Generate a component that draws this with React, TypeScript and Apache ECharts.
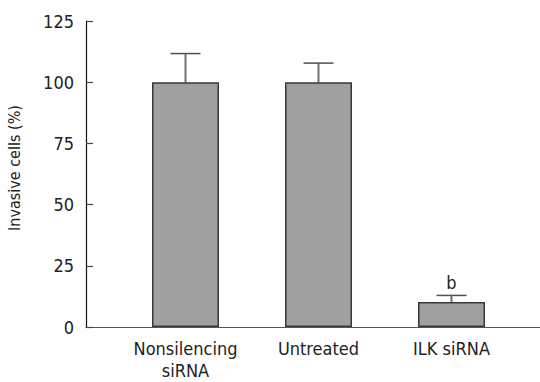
import React, { useEffect, useRef } from "react";
import * as echarts from "echarts";

// Invasion assay: percentage of invasive cells per treatment
const categories = ["Nonsilencing\nsiRNA", "Untreated", "ILK siRNA"];
const invasiveMean = [100, 100, 10.2];
const invasiveUpper = [111.7, 107.8, 12.9];
const significance = ["", "", "b"];
const yTicks = [0, 25, 50, 75, 100, 125];

const FONT = "'DejaVu Sans Condensed', 'DejaVu Sans', Tahoma, sans-serif";

export default function App() {
  const ref = useRef<HTMLDivElement>(null);

  useEffect(() => {
    if (!ref.current) return;
    const chart = echarts.init(ref.current, undefined, { renderer: "svg" });

    const gridTop = 21;
    const gridBottom = 55;

    chart.setOption({
      animation: false,
      backgroundColor: "#ffffff",
      textStyle: { fontFamily: FONT },
      grid: [
        { left: 86, right: 0, top: gridTop, bottom: gridBottom, outerBoundsMode: "none" },
        { left: 119, width: 399, top: gridTop, bottom: gridBottom, outerBoundsMode: "none" },
      ],
      xAxis: [
        {
          // frame axis: only the baseline spanning the full plot
          type: "value",
          gridIndex: 0,
          min: 0,
          max: 1,
          axisLine: { show: true, lineStyle: { color: "#555555", width: 1.2 } },
          axisTick: { show: false },
          axisLabel: { show: false },
          splitLine: { show: false },
        },
        {
          type: "category",
          gridIndex: 1,
          data: categories,
          axisLine: { show: false },
          axisTick: { show: false },
          axisLabel: {
            interval: 0,
            color: "#222222",
            fontFamily: FONT,
            fontSize: 18,
            lineHeight: 22,
            margin: 10,
          },
        },
      ],
      yAxis: [
        {
          type: "value",
          gridIndex: 0,
          min: yTicks[0],
          max: yTicks[yTicks.length - 1],
          interval: 25,
          name: "Invasive cells (%)",
          nameLocation: "middle",
          nameGap: 64,
          nameTextStyle: {
            color: "#222222",
            fontFamily: FONT,
            fontSize: 16,
            padding: [0, 0, 0, 12],
          },
          axisLine: { show: true, lineStyle: { color: "#111111", width: 1.2 } },
          axisTick: { show: true, inside: true, length: 7, lineStyle: { color: "#444444", width: 1.2 } },
          axisLabel: { color: "#222222", fontFamily: FONT, fontSize: 18, margin: 12 },
          splitLine: { show: false },
        },
        {
          type: "value",
          gridIndex: 1,
          min: yTicks[0],
          max: yTicks[yTicks.length - 1],
          interval: 25,
          show: false,
        },
      ],
      series: [
        {
          type: "bar",
          xAxisIndex: 1,
          yAxisIndex: 1,
          data: invasiveMean,
          barWidth: 67,
          itemStyle: { color: "#a0a0a0", borderColor: "#383838", borderWidth: 1.5 },
          z: 2,
        },
        {
          type: "custom",
          xAxisIndex: 1,
          yAxisIndex: 1,
          data: invasiveMean.map((m, i) => [i, m, invasiveUpper[i]]),
          z: 1,
          renderItem: (params: any, api: any) => {
            const idx = api.value(0);
            const base = api.coord([idx, api.value(1)]);
            const top = api.coord([idx, api.value(2)]);
            const half = 15;
            const children: any[] = [
              {
                type: "line",
                shape: { x1: base[0], y1: base[1], x2: top[0], y2: top[1] },
                style: { stroke: "#707070", lineWidth: 2 },
              },
              {
                type: "line",
                shape: { x1: top[0] - half, y1: top[1], x2: top[0] + half, y2: top[1] },
                style: { stroke: "#505050", lineWidth: 1.5 },
              },
            ];
            const mark = significance[params.dataIndex];
            if (mark) {
              children.push({
                type: "text",
                x: top[0],
                y: top[1] - 4,
                style: {
                  text: mark,
                  fill: "#222222",
                  font: `18px ${FONT}`,
                  textAlign: "center",
                  textVerticalAlign: "bottom",
                },
              });
            }
            return { type: "group", children };
          },
        },
      ],
    });

    return () => chart.dispose();
  }, []);

  return (
    <div
      ref={ref}
      style={{ position: "fixed", left: 0, top: 0, width: 540, height: 382 }}
    />
  );
}
